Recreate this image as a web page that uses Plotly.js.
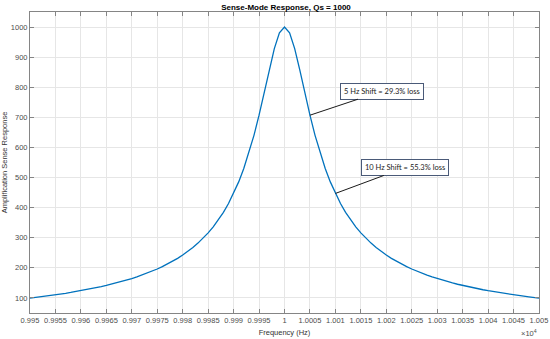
<!DOCTYPE html>
<html><head><meta charset="utf-8">
<script src="https://cdn.plot.ly/plotly-3.0.1.min.js"></script>
<style>html,body{margin:0;padding:0;background:#fff}#chart{width:550px;height:339px}</style>
</head><body><div id="chart"></div>
<script>
// Frequency (Hz), 1 Hz steps
const freq = [9950,9951,9952,9953,9954,9955,9956,9957,9958,9959,
  9960,9961,9962,9963,9964,9965,9966,9967,9968,9969,
  9970,9971,9972,9973,9974,9975,9976,9977,9978,9979,
  9980,9981,9982,9983,9984,9985,9986,9987,9988,9989,
  9990,9991,9992,9993,9994,9995,9996,9997,9998,9999,
  10000,
  10001,10002,10003,10004,10005,10006,10007,10008,10009,10010,
  10011,10012,10013,10014,10015,10016,10017,10018,10019,10020,
  10021,10022,10023,10024,10025,10026,10027,10028,10029,10030,
  10031,10032,10033,10034,10035,10036,10037,10038,10039,10040,
  10041,10042,10043,10044,10045,10046,10047,10048,10049,10050];
// Amplification
const amp = [99.5,101.5,103.6,105.8,108.1,110.4,112.9,115.5,118.2,121.1,
  124.0,127.2,130.5,133.9,137.6,141.4,145.5,149.8,154.4,159.2,
  164.4,169.9,175.8,182.1,188.8,196.1,204.0,212.4,221.6,231.6,
  242.5,254.5,267.6,282.2,298.3,316.2,336.3,359.0,384.6,413.8,
  447.2,485.6,530.0,581.2,640.2,707.1,780.9,857.5,928.5,980.6,
  1000,
  980.6,928.5,857.5,780.9,707.1,640.2,581.2,530.0,485.6,447.2,
  413.8,384.6,359.0,336.3,316.2,298.3,282.2,267.6,254.5,242.5,
  231.6,221.6,212.4,204.0,196.1,188.8,182.1,175.8,169.9,164.4,
  159.2,154.4,149.8,145.5,141.4,137.6,133.9,130.5,127.2,124.0,
  121.1,118.2,115.5,112.9,110.4,108.1,105.8,103.6,101.5,99.5];
const xTickVals = [9950,9955,9960,9965,9970,9975,9980,9985,9990,9995,10000,10005,10010,10015,10020,10025,10030,10035,10040,10045,10050];
const xTickText = ['0.995','0.9955','0.996','0.9965','0.997','0.9975','0.998','0.9985','0.999','0.9995','1','1.0005','1.001','1.0015','1.002','1.0025','1.003','1.0035','1.004','1.0045','1.005'];
const yTickVals = [100,200,300,400,500,600,700,800,900,1000];
const note1 = {f: 10005, a: 707.1, text: '5 Hz Shift = 29.3% loss'};
const note2 = {f: 10010, a: 447.2, text: '10 Hz Shift = 55.3% loss'};

const axisCommon = {
  showline: true, mirror: 'ticks', linecolor: '#858585', linewidth: 1,
  ticks: 'inside', ticklen: 4, tickcolor: '#858585',
  showgrid: true, gridcolor: '#e6e6e6', gridwidth: 1, zeroline: false,
  tickfont: {family: 'Liberation Sans, Arial, sans-serif', size: 7.5, color: '#4d4d4d'}
};
const noteStyle = {
  showarrow: true, arrowhead: 0, arrowwidth: 1, arrowcolor: '#1a1a1a',
  bgcolor: '#ffffff', bordercolor: '#4a5a78', borderwidth: 1, borderpad: 3,
  font: {family: 'Lato, Open Sans, sans-serif', size: 7.5, color: '#222'}
};
const layout = {
  width: 550, height: 339,
  margin: {l: 30, r: 11, t: 12, b: 26},
  paper_bgcolor: '#fff', plot_bgcolor: '#fff',
  showlegend: false,
  title: {text: '<b>Sense-Mode Response, Qs = 1000</b>', x: 0.52, xanchor: 'center', y: 0.988, yanchor: 'top',
    font: {family: 'Liberation Sans, Arial, sans-serif', size: 8, color: '#000'}},
  xaxis: Object.assign({}, axisCommon, {
    range: [9950, 10050], tickvals: xTickVals, ticktext: xTickText, tickangle: 0,
    title: {text: 'Frequency (Hz)', standoff: 5, font: {family: 'Liberation Sans, Arial, sans-serif', size: 7.5, color: '#333'}}
  }),
  yaxis: Object.assign({}, axisCommon, {
    range: [50, 1050], tickvals: yTickVals,
    title: {text: 'Amplification Sense Response', standoff: 6, font: {family: 'Liberation Sans, Arial, sans-serif', size: 7.5, color: '#333'}}
  }),
  annotations: [
    Object.assign({}, noteStyle, {x: note1.f, y: note1.a, xref: 'x', yref: 'y', text: note1.text, ax: 72, ay: -24}),
    Object.assign({}, noteStyle, {x: note2.f, y: note2.a, xref: 'x', yref: 'y', text: note2.text, ax: 70, ay: -26}),
    {xref: 'paper', yref: 'paper', x: 1, y: -0.068, xanchor: 'right', yanchor: 'middle', showarrow: false,
     text: '×10<sup>4</sup>', font: {family: 'Liberation Sans, Arial, sans-serif', size: 7.5, color: '#4d4d4d'}}
  ]
};
Plotly.newPlot('chart', [{
  x: freq, y: amp, type: 'scatter', mode: 'lines',
  line: {color: '#0072BD', width: 1.3}
}], layout, {staticPlot: true, displayModeBar: false});
</script></body></html>
